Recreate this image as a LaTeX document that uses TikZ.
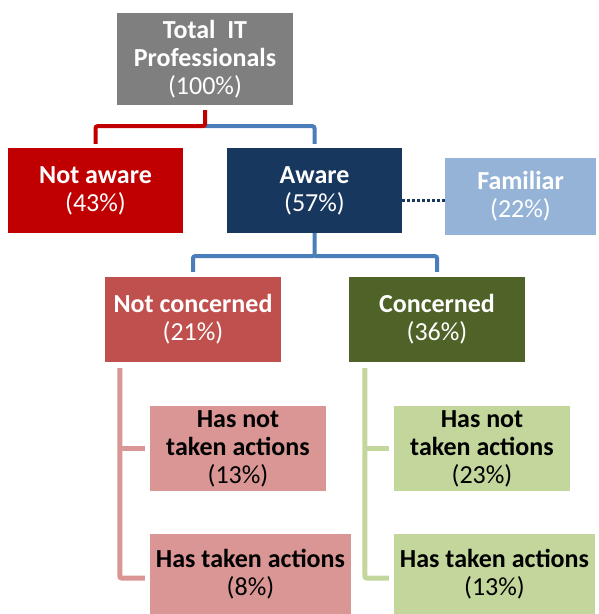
\documentclass[tikz,border=0pt]{standalone}
\usepackage{fontspec}
\setmainfont{Carlito}
\usetikzlibrary{calc}
\definecolor{cgray}{HTML}{7F7F7F}
\definecolor{cred}{HTML}{C00000}
\definecolor{cnavy}{HTML}{17375E}
\definecolor{clblue}{HTML}{95B3D7}
\definecolor{cmred}{HTML}{C0504D}
\definecolor{colive}{HTML}{4F6228}
\definecolor{cpink}{HTML}{D99694}
\definecolor{clgreen}{HTML}{C3D69B}
\definecolor{cblue}{HTML}{4A7EBB}
\tikzset{
  box/.style={rectangle, inner sep=0pt, align=center, font=\fontsize{26}{28}\selectfont, minimum height=85pt, minimum width=176pt},
  wbox/.style={box, text=white},
  kbox/.style={box, text=black},
  conn/.style={line width=4pt, rounded corners=2pt},
}
\begin{document}
\begin{tikzpicture}[x=1pt,y=-1pt]
\useasboundingbox (0,0) rectangle (598,614);
\node[wbox, fill=cgray, minimum height=92pt] (top) at (205,59) {\textbf{Total\ \ IT}\\\textbf{Professionals}\\(100\%)};
\node[wbox, fill=cred, minimum width=175pt] (na) at (95.5,190.5) {\textbf{Not aware}\\(43\%)};
\node[wbox, fill=cnavy, minimum width=175pt] (aw) at (314.5,190.5) {\textbf{Aware}\\(57\%)};
\node[wbox, fill=clblue, minimum width=151pt, minimum height=77pt] (fam) at (520.5,196.5) {\textbf{Familiar}\\(22\%)};
\node[wbox, fill=cmred] (nc) at (193,319.5) {\textbf{Not concerned}\\(21\%)};
\node[wbox, fill=colive] (co) at (437,319.5) {\textbf{Concerned}\\(36\%)};
\node[kbox, fill=cpink] (hn1) at (238,448.5) {\textbf{Has not}\\\textbf{taken actions}\\(13\%)};
\node[kbox, fill=cpink, minimum width=201pt, minimum height=80pt] (ht1) at (250.5,574) {\textbf{Has taken actions}\\(8\%)};
\node[kbox, fill=clgreen] (hn2) at (482,448.5) {\textbf{Has not}\\\textbf{taken actions}\\(23\%)};
\node[kbox, fill=clgreen, minimum width=201pt, minimum height=80pt] (ht2) at (494.5,574) {\textbf{Has taken actions}\\(13\%)};
% connectors
\draw[conn, cblue] ([yshift=-21pt]top.south) -| ([yshift=4pt]aw.north);
\draw[conn, cred] ([yshift=-5pt]top.south) -- ++(0,16) -| ([yshift=4pt]na.north);
\draw[line width=3pt, cnavy, dash pattern=on 3pt off 2pt] ([yshift=-4pt]fam.west) -- ([yshift=-4pt]fam.west -| aw.east);
\draw[conn, cblue] (aw.south) -- ++(0,23) -| ([yshift=5pt]nc.north);
\draw[conn, cblue] ([yshift=-23pt]aw.south) -| ([yshift=5pt]co.north);
\draw[line width=5pt, cpink, rounded corners=2pt] ([xshift=15pt,yshift=-6pt]nc.south west) |- ([xshift=-5pt,yshift=-4pt]ht1.west);
\draw[line width=5pt, cpink] ([xshift=15pt]nc.south west |- hn1.west) -- ([xshift=-5pt]hn1.west);
\draw[line width=5pt, clgreen, rounded corners=2pt] ([xshift=16pt,yshift=-6pt]co.south west) |- ([xshift=-5pt,yshift=-4pt]ht2.west);
\draw[line width=5pt, clgreen] ([xshift=16pt]co.south west |- hn2.west) -- ([xshift=-5pt]hn2.west);
\end{tikzpicture}
\end{document}
